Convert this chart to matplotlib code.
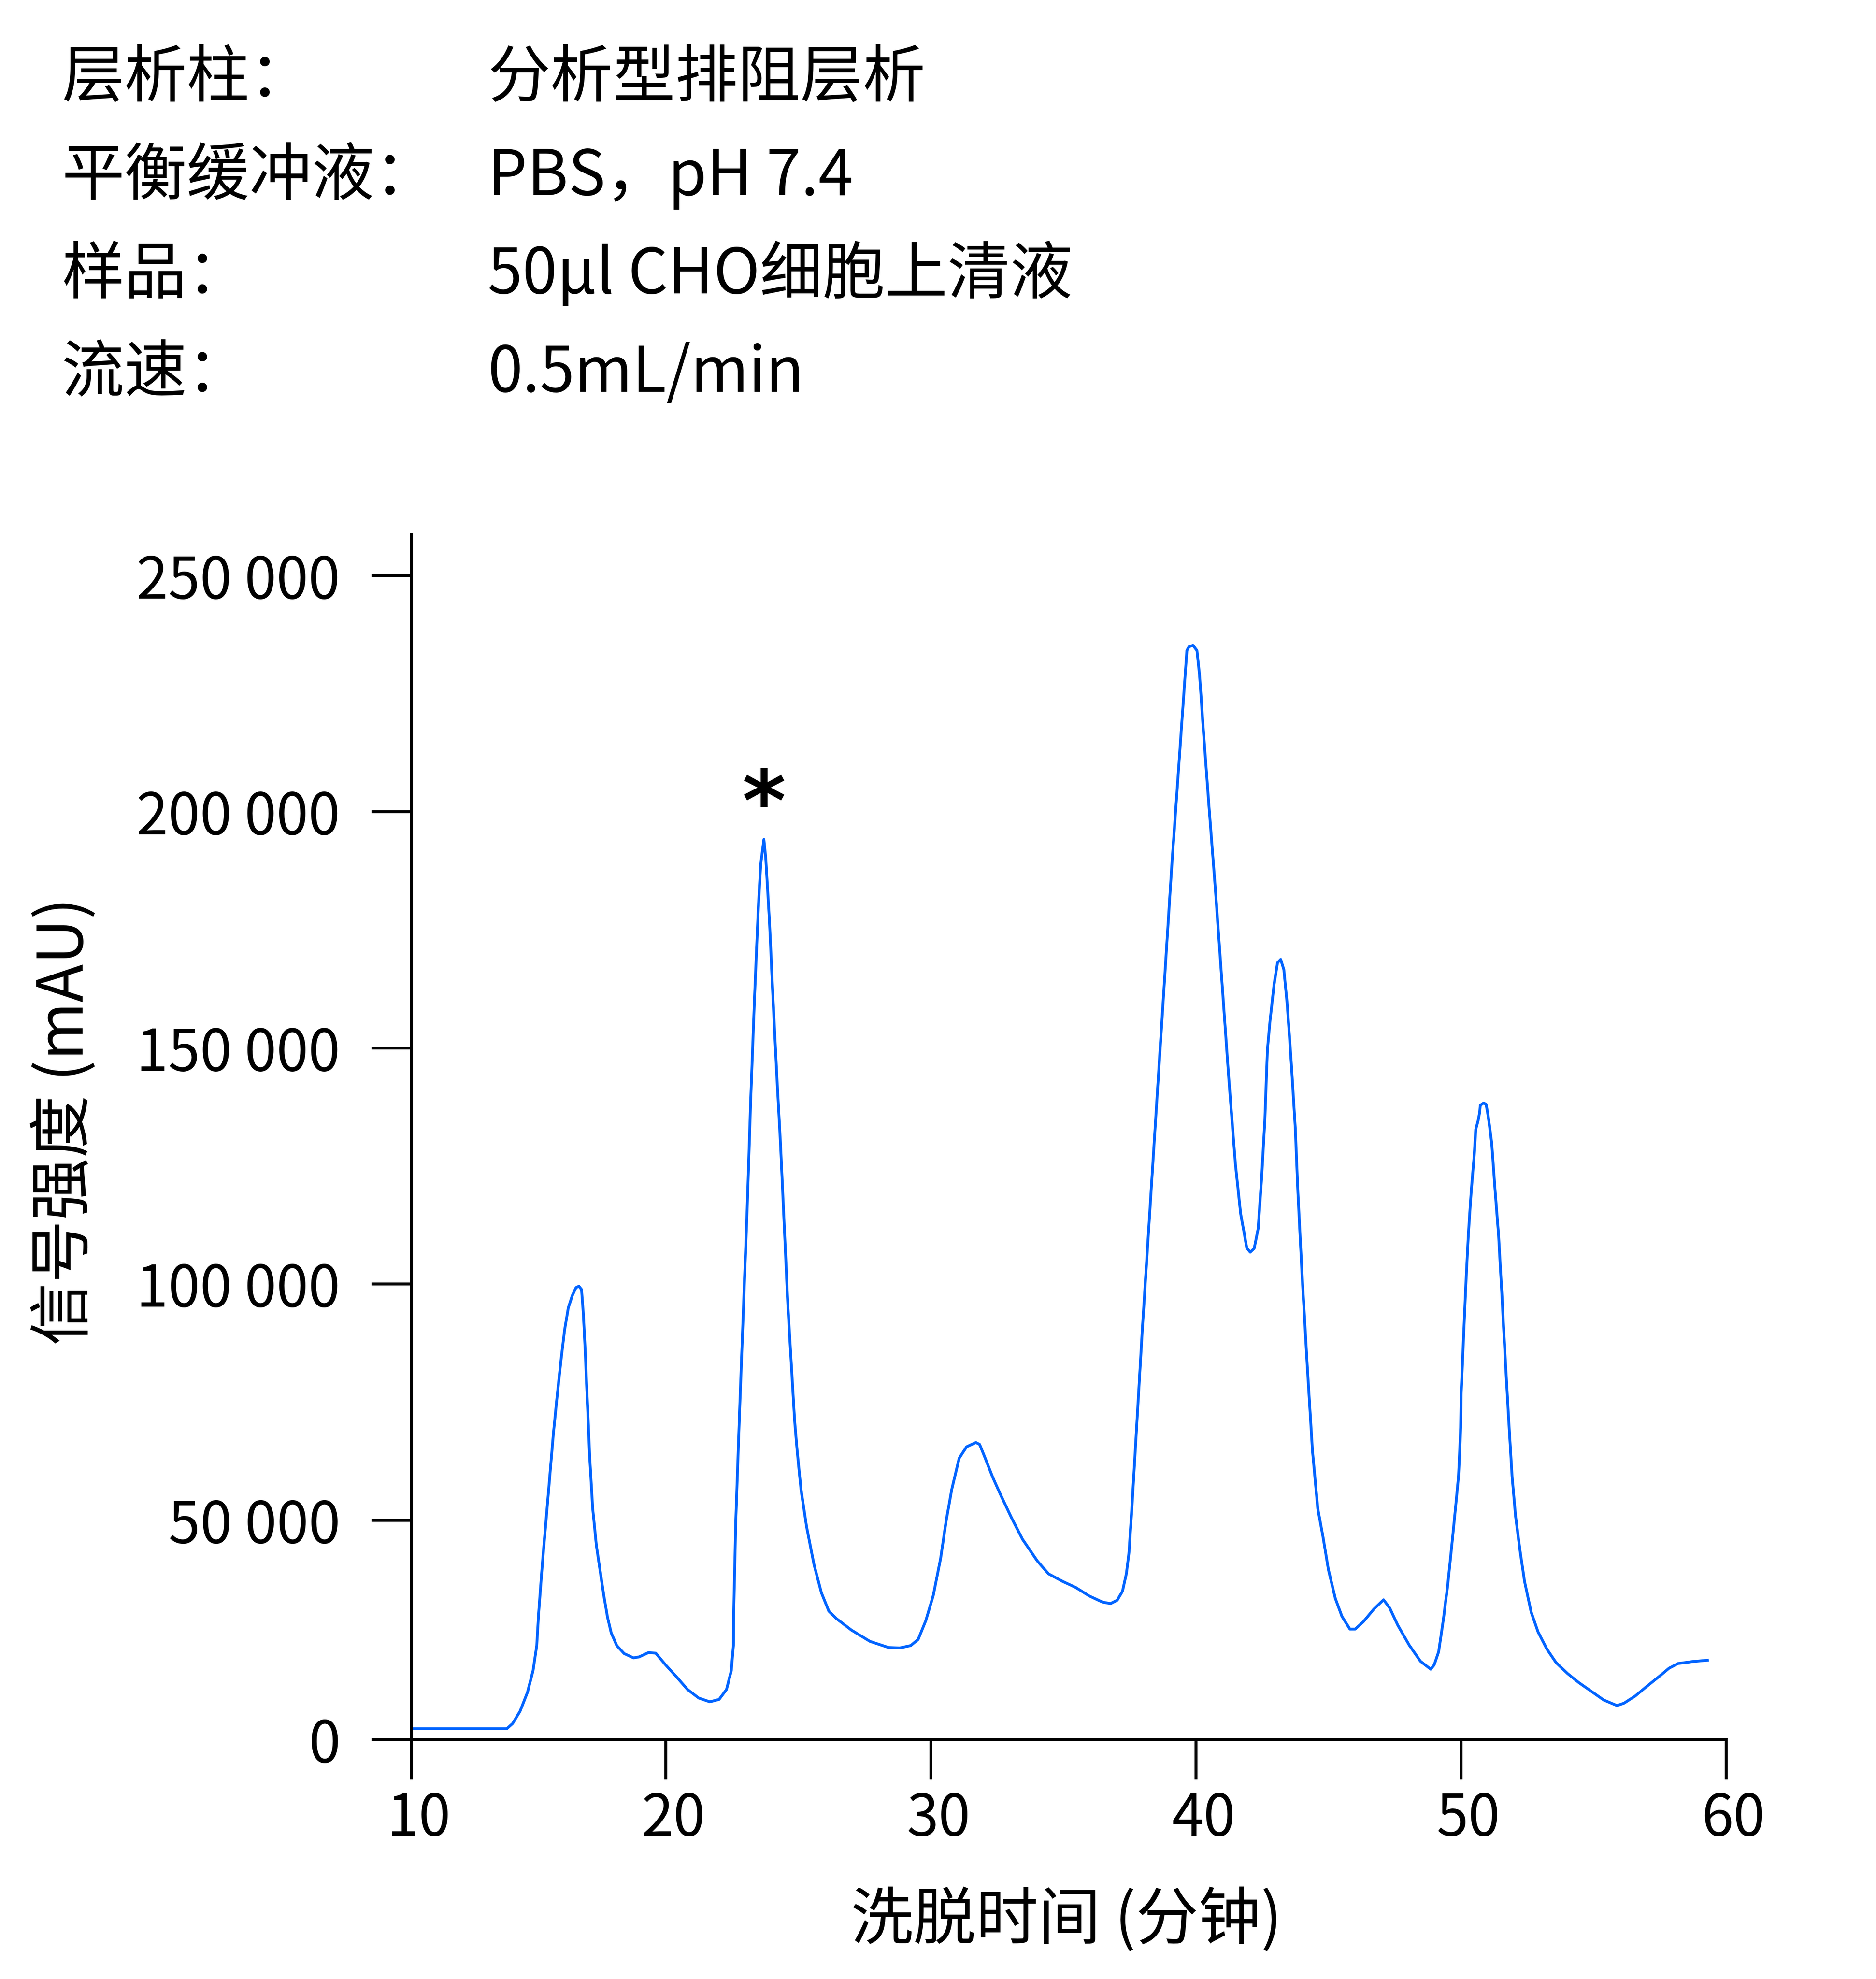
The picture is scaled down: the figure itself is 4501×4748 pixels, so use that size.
import matplotlib
matplotlib.use('Agg')
import matplotlib.pyplot as plt
from matplotlib.transforms import ScaledTranslation

plt.rcParams['font.family'] = ['Noto Sans CJK SC', 'DejaVu Sans']

# header block
info_labels = ['层析柱：', '平衡缓冲液：', '样品：', '流速：']
info_values = ['分析型排阻层析', 'PBS，pH 7.4', '50µl CHO细胞上清液', '0.5mL/min']

# chromatogram (minutes, mAU)
elution_min = [
    10.4, 14.0, 14.22, 14.5, 14.78, 14.99, 15.13, 15.2, 15.34, 15.48,
    15.62, 15.76, 15.9, 16.04, 16.18, 16.32, 16.47, 16.61, 16.72, 16.82,
    16.89, 16.96, 17.03, 17.13, 17.24, 17.38, 17.52, 17.66, 17.8, 17.94,
    18.15, 18.43, 18.78, 18.99, 19.34, 19.62, 19.98, 20.4, 20.82, 21.24,
    21.66, 22.01, 22.29, 22.47, 22.55, 22.56, 22.64, 22.78, 22.92, 23.07,
    23.2, 23.35, 23.49, 23.58, 23.7, 23.77, 23.91, 24.05, 24.19, 24.33,
    24.47, 24.61, 24.75, 24.86, 24.96, 25.1, 25.31, 25.59, 25.87, 26.15,
    26.44, 27.0, 27.7, 28.4, 28.82, 29.24, 29.52, 29.81, 30.09, 30.37,
    30.58, 30.79, 31.07, 31.35, 31.7, 31.84, 32.05, 32.33, 32.61, 33.04,
    33.46, 34.02, 34.44, 34.97, 35.47, 35.98, 36.48, 36.78, 37.03, 37.23,
    37.38, 37.48, 37.6, 37.98, 38.53, 39.09, 39.66, 39.74, 39.89, 40.04,
    40.14, 40.29, 40.49, 40.74, 40.99, 41.24, 41.49, 41.69, 41.84, 41.92,
    42.05, 42.2, 42.35, 42.48, 42.6, 42.7, 42.8, 42.95, 43.08, 43.2,
    43.32, 43.45, 43.6, 43.75, 43.85, 44.0, 44.2, 44.4, 44.6, 44.8,
    45.0, 45.26, 45.51, 45.81, 46.01, 46.31, 46.71, 47.08, 47.31, 47.62,
    48.05, 48.47, 48.86, 48.99, 49.16, 49.33, 49.5, 49.67, 49.8, 49.91,
    49.97, 49.99, 50.01, 50.08, 50.18, 50.28, 50.39, 50.5, 50.56, 50.65,
    50.71, 50.73, 50.86, 50.95, 51.03, 51.16, 51.29, 51.42, 51.54, 51.67,
    51.8, 51.93, 52.06, 52.23, 52.4, 52.65, 52.91, 53.25, 53.59, 54.02,
    54.44, 54.95, 55.38, 55.89, 56.15, 56.57, 57.0, 57.51, 57.85, 58.19,
    58.71, 59.3,
]
signal_mau = [
    5800, 5800, 6900, 9500, 13500, 18100, 23400, 30100, 40600, 49900,
    59100, 68400, 76300, 83600, 90200, 94900, 97500, 99200, 99500, 98800,
    93500, 85600, 76300, 63100, 52500, 44600, 39300, 34000, 29400, 26100,
    23400, 21700, 20800, 21000, 21900, 21800, 19400, 16800, 14100, 12300,
    11500, 12000, 14100, 18100, 23400, 30100, 49900, 72400, 93500, 116000,
    138500, 161000, 179600, 188800, 194100, 190200, 176900, 159700, 143800, 129300,
    112100, 94900, 81600, 71000, 64400, 56500, 48600, 40600, 34600, 30700,
    29100, 26700, 24300, 23000, 22900, 23400, 24700, 28700, 34000, 41900,
    49900, 56500, 63100, 65500, 66400, 66000, 63100, 59100, 55600, 50500,
    45900, 41300, 38600, 37000, 35700, 33900, 32600, 32300, 33000, 34900,
    38700, 43300, 53900, 90400, 139100, 188500, 234100, 234900, 235200, 234100,
    228800, 216600, 201400, 183200, 163400, 143600, 125400, 114800, 110200, 107600,
    106700, 107500, 111700, 122400, 134500, 149700, 155800, 163400, 168000, 168700,
    166500, 158900, 146700, 133000, 119300, 102600, 82800, 64600, 52400, 46300,
    39500, 33400, 29600, 26900, 26900, 28400, 31100, 33100, 31400, 27700,
    23500, 20100, 18400, 19300, 22100, 28600, 36100, 45400, 52800, 59300,
    66700, 69500, 76900, 86200, 99200, 110400, 119700, 127100, 132700, 134600,
    136400, 137800, 138300, 138000, 135500, 129900, 119700, 110400, 98300, 84400,
    71400, 59300, 50900, 43500, 37000, 30500, 26300, 22600, 19800, 17500,
    15600, 13600, 11900, 10700, 11200, 12700, 14700, 17000, 18600, 19600,
    20000, 20300,
]

marked_time = 23.7
marked_signal = 194100

x_ticks = [10.4, 20, 30, 40, 50, 60]
x_tick_labels = ['10', '20', '30', '40', '50', '60']
y_ticks = [3550, 50000, 100000, 150000, 200000, 250000]
y_tick_labels = ['0', '50 000', '100 000', '150 000', '200 000', '250 000']

W, H = 4501, 4748
fig = plt.figure(figsize=(W / 300, H / 300), dpi=300)

# header rows, labels on the left and values in a second column
for i, (lab, val) in enumerate(zip(info_labels, info_values)):
    y = 1 - (232 + 236 * i) / H
    fig.text(148 / W, y, lab, fontsize=36, va='baseline', ha='left')
    fig.text(1170 / W, y, val, fontsize=36, va='baseline', ha='left')

ax = fig.add_axes([987 / W, 1 - 4173 / H, (4141 - 987) / W, (4173 - 1282) / H])
ax.plot(elution_min, signal_mau, color='#0064ff', lw=1.6)
ax.set_xlim(10.4, 60)
ax.set_ylim(3550, 258700)

ax.set_xticks(x_ticks)
ax.set_xticklabels(x_tick_labels)
ax.set_yticks(y_ticks)
ax.set_yticklabels(y_tick_labels)

for side in ['top', 'right']:
    ax.spines[side].set_visible(False)
for side in ['left', 'bottom']:
    ax.spines[side].set_linewidth(1.7)
ax.tick_params(length=23, width=1.7, labelsize=33)
ax.tick_params(axis='y', pad=18)
ax.tick_params(axis='x', pad=6)

# x tick labels sit a little right of their ticks in the original
shift = ScaledTranslation(18 / 300, 0, fig.dpi_scale_trans)
for lbl in ax.get_xticklabels():
    lbl.set_transform(lbl.get_transform() + shift)

# six-armed asterisk over the marked peak
ax.text(marked_time, marked_signal + 6800, '*', fontsize=48, fontweight='bold',
        family='DejaVu Sans', ha='center', va='center')

fig.text(2558 / W, 1 - 4610 / H, '洗脱时间 (分钟)', fontsize=36, ha='center', va='center')
fig.text(156 / W, 1 - 2690 / H, '信号强度 (mAU)', fontsize=36, ha='center', va='center',
         rotation=90)

fig.savefig('out.png', dpi=300)
